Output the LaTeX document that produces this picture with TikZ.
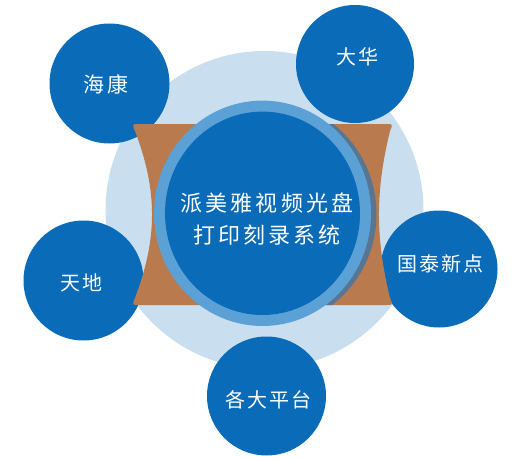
\documentclass[tikz,border=0pt]{standalone}
\usepackage{fontspec}
\newfontfamily\cjksat[LetterSpace=10]{Noto Sans CJK SC}
\newfontfamily\cjkcore[LetterSpace=14]{Noto Sans CJK SC}
\definecolor{darkblue}{HTML}{0A6BB8}
\definecolor{bgblue}{HTML}{C9DFF0}
\definecolor{ringblue}{HTML}{5CA1D6}
\definecolor{brownc}{HTML}{B97A4E}
\definecolor{shadowc}{HTML}{587592}
\tikzset{
  satcircle/.style={circle, fill=darkblue, minimum size=120pt, inner sep=0pt},
  sattext/.style={text=white, font=\cjksat\fontsize{20pt}{24pt}\selectfont, inner sep=0pt},
  coretext/.style={text=white, align=center, font=\cjkcore\fontsize{22pt}{32pt}\selectfont, inner sep=0pt}
}
\def\brownpath{(139,124) -- (386,124) .. controls (393,124) .. (390,131)
  .. controls (375.3,191) and (375.3,238) .. (390,298)
  .. controls (393,305) .. (386,305) -- (139,305)
  .. controls (132,305) .. (135,298)
  .. controls (157.7,238) and (157.7,191) .. (135,131)
  .. controls (132,124) .. cycle}
\begin{document}
\begin{tikzpicture}[x=1pt,y=-1pt]
\useasboundingbox (0,0) rectangle (530,460);
% background disc
\fill[bgblue] (264.5,210) circle (159pt);
% satellites
\node[satcircle] (haikang) at (109.5,83.5) {};
\node[satcircle, minimum size=118pt] (dahua) at (355,64) {};
\node[satcircle, minimum size=117pt] (guotai) at (439,269) {};
\node[satcircle] (tiandi) at (83.5,280.5) {};
\node[satcircle, minimum size=119pt] (pingtai) at (266.5,396) {};
% brown shape
\fill[brownc] \brownpath;
% ring shadow clipped to brown shape
\begin{scope}
  \clip \brownpath;
  \fill[shadowc] (266,214) ellipse [x radius=110.5pt, y radius=113.5pt];
\end{scope}
% ring and core
\fill[ringblue] (262.5,213.3) ellipse [x radius=108.5pt, y radius=112.7pt];
\fill[darkblue] (262.5,213.3) ellipse [x radius=97.5pt, y radius=101.7pt];
\node[coretext] (core) at (267,219) {派美雅视频光盘\\打印刻录系统};
% labels
\node[sattext, font=\cjksat\fontsize{21pt}{24pt}\selectfont] (thaikang) at (106,84) {海康};
\node[sattext] (tdahua) at (357,57) {大华};
\node[sattext] (tguotai) at (440,264) {国泰新点};
\node[sattext] (ttiandi) at (81,282.5) {天地};
\node[sattext] (tpingtai) at (268,400) {各大平台};
\end{tikzpicture}
\end{document}
